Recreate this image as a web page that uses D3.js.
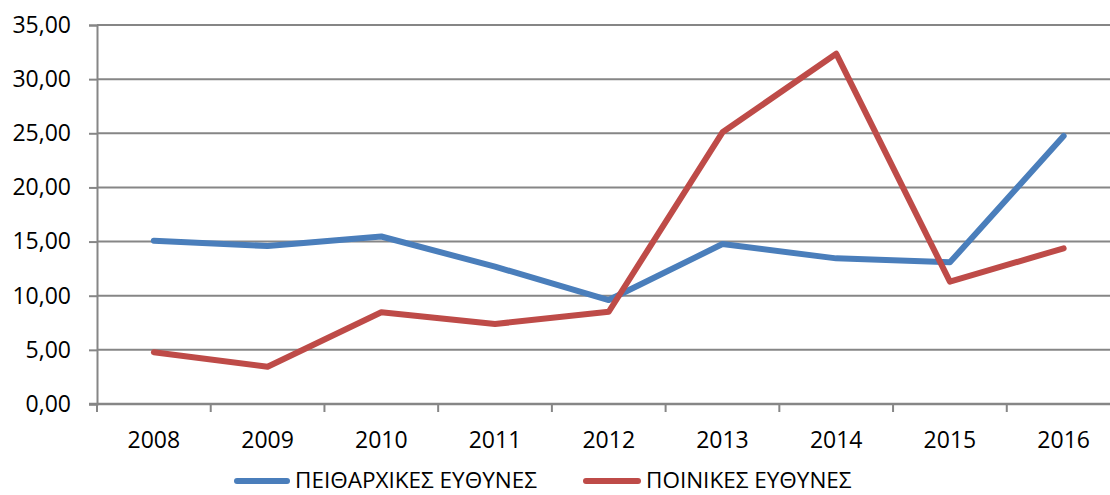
<!DOCTYPE html>
<html>
<head>
<meta charset="utf-8">
<script src="https://cdn.jsdelivr.net/npm/d3@7"></script>
<style>
  html, body { margin: 0; padding: 0; background: #fff; }
  svg { display: block; }
</style>
</head>
<body>
<svg id="chart" width="1110" height="495"></svg>
<script>
const years = ["2008", "2009", "2010", "2011", "2012", "2013", "2014", "2015", "2016"];
const disciplinary = [15.08, 14.59, 15.47, 12.68, 9.6, 14.77, 13.45, 13.08, 24.75];
const criminal = [4.77, 3.44, 8.47, 7.39, 8.52, 25.09, 32.35, 11.3, 14.38];
const seriesNames = ["ΠΕΙΘΑΡΧΙΚΕΣ ΕΥΘΥΝΕΣ", "ΠΟΙΝΙΚΕΣ ΕΥΘΥΝΕΣ"];
const yTicks = [0, 5, 10, 15, 20, 25, 30, 35];

const colors = ["#4A7EBB", "#BE4B48"];
const gridColor = "#868686";
const font = "'Open Sans', 'Liberation Sans', sans-serif";

const svg = d3.select("#chart");
const plotLeft = 97, plotRight = 1120.5, plotTop = 25, plotBottom = 404;

const x = d3.scaleBand().domain(years).range([plotLeft, plotRight]);
const y = d3.scaleLinear().domain([0, 35]).range([plotBottom, plotTop]);

// gridlines
svg.append("g")
  .selectAll("line")
  .data(yTicks.filter(d => d > 0))
  .join("line")
  .attr("x1", plotLeft).attr("x2", 1110)
  .attr("y1", d => y(d)).attr("y2", d => y(d))
  .attr("stroke", gridColor).attr("stroke-width", 2);

// y axis
const yAxis = svg.append("g")
  .attr("transform", `translate(${plotLeft},0)`)
  .call(d3.axisLeft(y).tickValues(yTicks).tickSize(8).tickPadding(18)
    .tickFormat(d => d3.format(".2f")(d).replace(".", ",")));
yAxis.select(".domain").attr("stroke", gridColor).attr("stroke-width", 2);
yAxis.selectAll(".tick line").attr("stroke", gridColor).attr("stroke-width", 2);
yAxis.selectAll(".tick text")
  .attr("fill", "#000").style("font-family", font).style("font-size", "23px");

// x axis
const xTickPositions = years.map(d => x(d)).concat([plotRight]);
const xAxis = svg.append("g");
xAxis.append("line")
  .attr("x1", plotLeft - 8).attr("x2", 1110)
  .attr("y1", plotBottom).attr("y2", plotBottom)
  .attr("stroke", gridColor).attr("stroke-width", 2.5);
xAxis.selectAll("line.tk")
  .data(xTickPositions)
  .join("line").attr("class", "tk")
  .attr("x1", d => d).attr("x2", d => d)
  .attr("y1", plotBottom).attr("y2", plotBottom + 8)
  .attr("stroke", gridColor).attr("stroke-width", 2);
xAxis.selectAll("text")
  .data(years)
  .join("text")
  .attr("x", d => x(d) + x.bandwidth() / 2)
  .attr("y", 448)
  .attr("text-anchor", "middle")
  .attr("fill", "#000")
  .style("font-family", font).style("font-size", "23px")
  .text(d => d);

// lines
const line = d3.line()
  .x((d, i) => x(years[i]) + x.bandwidth() / 2)
  .y(d => y(d));

[disciplinary, criminal].forEach((vals, i) => {
  svg.append("path")
    .datum(vals)
    .attr("d", line)
    .attr("fill", "none")
    .attr("stroke", colors[i])
    .attr("stroke-width", 6)
    .attr("stroke-linejoin", "round")
    .attr("stroke-linecap", "round");
});

// legend
const legendItems = [
  { name: seriesNames[0], color: colors[0], x1: 237, x2: 287, tx: 295 },
  { name: seriesNames[1], color: colors[1], x1: 586, x2: 638, tx: 646 }
];
const lg = svg.append("g");
legendItems.forEach(it => {
  lg.append("line")
    .attr("x1", it.x1).attr("x2", it.x2)
    .attr("y1", 481).attr("y2", 481)
    .attr("stroke", it.color).attr("stroke-width", 6)
    .attr("stroke-linecap", "round");
  lg.append("text")
    .attr("x", it.tx).attr("y", 488)
    .attr("fill", "#000")
    .style("font-family", font).style("font-size", "22.5px")
    .text(it.name);
});
</script>
</body>
</html>
